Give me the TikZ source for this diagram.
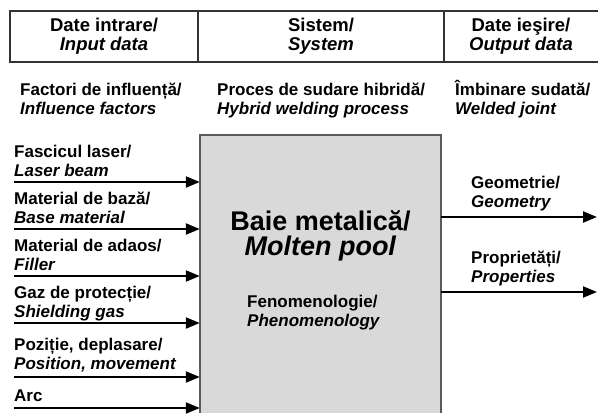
\documentclass[tikz,border=0pt]{standalone}
\usepackage{fontspec}
\setmainfont{Liberation Sans}
\usepackage{tikz}
\usetikzlibrary{arrows.meta}
\definecolor{rulegray}{HTML}{333333}
\definecolor{poolgray}{HTML}{D9D9D9}
\definecolor{edgegray}{HTML}{5A5A5A}

\begin{document}
\begin{tikzpicture}[x=1pt,y=-1pt,
  txt/.style={font=\fontsize{17}{19}\selectfont\bfseries,inner sep=0pt,align=left,anchor=base west},
  head/.style={font=\fontsize{18.5}{19.5}\selectfont\bfseries,inner sep=0pt,align=center,anchor=base},
  flow/.style={line width=2.2pt,-{Triangle[length=14pt,width=11pt]}},
  rule/.style={rulegray,line width=2pt}]
\useasboundingbox (0,0) rectangle (598,413);
% header table
\draw[rule] (598,11) -- (10,11) -- (10,62) -- (598,62);
\draw[rule] (198,11) -- (198,62);
\draw[rule] (444,11) -- (444,62);
\node[head] (inhead) at (104,50.5) {Date intrare/\\\textit{Input data}};
\node[head] (syshead) at (321,50.5) {Sistem/\\\textit{System}};
\node[head] (outhead) at (521,50.5) {Date ieşire/\\\textit{Output data}};
\node[txt] (infact) at (20,114) {Factori de influență/\\\textit{Influence factors}};
\node[txt] (procfact) at (217,114) {Proces de sudare hibridă/\\\textit{Hybrid welding process}};
\node[txt] (outfact) at (455,114) {Îmbinare sudată/\\\textit{Welded joint}};
% molten pool
\node[fill=poolgray,inner sep=0pt,minimum width=241pt,minimum height=278pt] (pool) at (320.5,274) {};
\draw[edgegray,line width=2.5pt] (pool.south west) -- (pool.north west) -- (pool.north east) -- (pool.south east);
\node[font=\fontsize{27}{25.5}\selectfont\bfseries,align=center,anchor=base,inner sep=0pt] (pooltitle) at (320.5,255.5) {Baie metalică/\\\textit{Molten pool}};
\node[txt] (phen) at (247,326) {Fenomenologie/\\\textit{Phenomenology}};
% inputs
\node[txt] (laser) at (14,176) {Fascicul laser/\\\textit{Laser beam}};
\coordinate (laserin) at (14,182);
\draw[flow] (laserin) -- (laserin -| pool.west);
\node[txt] (base) at (14,223) {Material de bază/\\\textit{Base material}};
\coordinate (basein) at (14,229);
\draw[flow] (basein) -- (basein -| pool.west);
\node[txt] (filler) at (14,270) {Material de adaos/\\\textit{Filler}};
\coordinate (fillerin) at (14,276);
\draw[flow] (fillerin) -- (fillerin -| pool.west);
\node[txt] (gas) at (14,317) {Gaz de protecție/\\\textit{Shielding gas}};
\coordinate (gasin) at (14,323);
\draw[flow] (gasin) -- (gasin -| pool.west);
\node[txt] (pos) at (14,369) {Poziție, deplasare/\\\textit{Position, movement}};
\coordinate (posin) at (14,377);
\draw[flow] (posin) -- (posin -| pool.west);
\node[txt] (arc) at (14,401) {Arc};
\coordinate (arcin) at (14,408);
\draw[flow] (arcin) -- (arcin -| pool.west);
% outputs
\node[txt] (geom) at (471,207) {Geometrie/\\\textit{Geometry}};
\coordinate (geomout) at (597,217);
\draw[flow] (geomout -| pool.east) -- (geomout);
\node[txt] (prop) at (471,282) {Proprietăți/\\\textit{Properties}};
\coordinate (propout) at (597,292);
\draw[flow] (propout -| pool.east) -- (propout);
\end{tikzpicture}
\end{document}
